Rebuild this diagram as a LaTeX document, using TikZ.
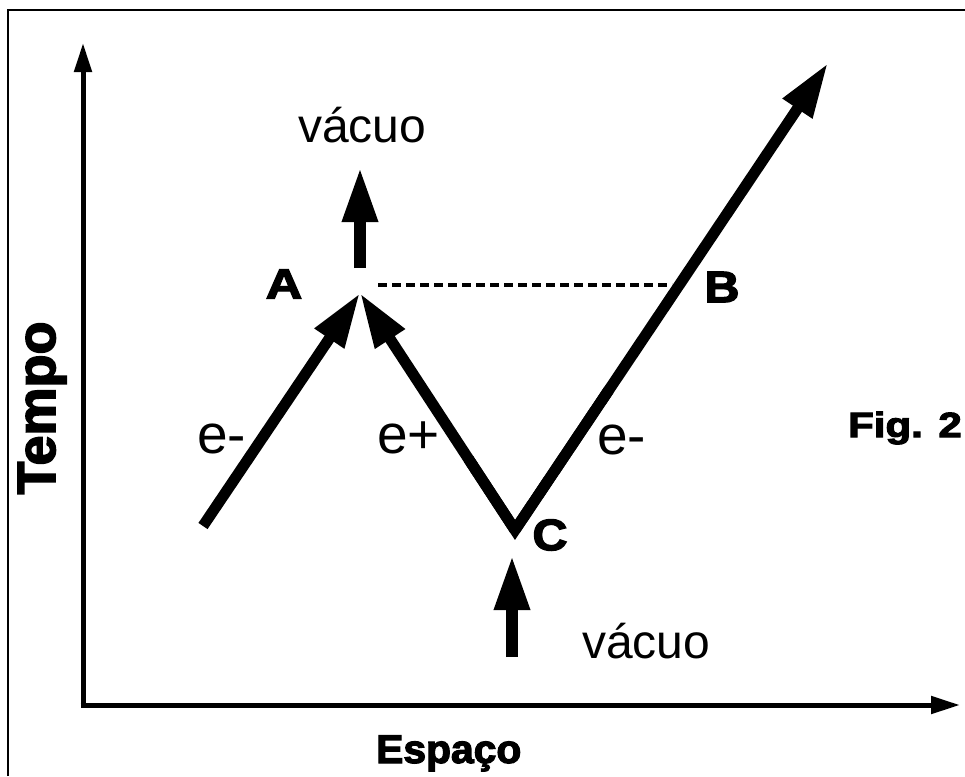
\documentclass[tikz,border=0pt]{standalone}
\usepackage{fontspec}
\setmainfont{Liberation Sans}
\newfontfamily\heavyfont{Liberation Sans}[BoldFeatures={FakeBold=3}]
\usetikzlibrary{arrows.meta,calc}
\begin{document}
\begin{tikzpicture}[x=1pt,y=-1pt,
  bigarrow/.style={line width=11pt,-{Triangle[length=55pt,width=33pt]}},
  axisarrow/.style={line width=5pt,-{Triangle[length=29pt,width=17pt]}},
  lbl/.style={inner sep=0pt,anchor=base west,font=\fontsize{55}{60}\selectfont},
  vac/.style={inner sep=0pt,anchor=base west,font=\fontsize{48}{54}\selectfont},
  heavy/.style={inner sep=0pt,font=\heavyfont\bfseries}]
\useasboundingbox (0,0) rectangle (965,776);
\fill[white] (0,0) rectangle (965,776);
% frame (top and left edges)
\draw[line width=2pt] (7.5,776) -- (7.5,10) -- (965,10);
% axes
\coordinate (O) at (83,705);
\coordinate (Ytip) at (83,43);
\coordinate (Xtip) at (960,705);
\draw[axisarrow] ([yshift=2.5pt]O) -- (Ytip);
\draw[axisarrow] ([xshift=-2.5pt]O) -- (Xtip);
% world lines
\coordinate (S) at (203,526);
\coordinate (A) at (360,293);
\coordinate (C) at (515,530);
\coordinate (E) at (828,63);
\draw[bigarrow] (S) -- (A);
\draw[bigarrow] (C) -- (A);
\draw[bigarrow] (C) -- (E);
\draw[line width=11pt,line join=miter] ($(C)!0.3!(A)$) -- (C) -- ($(C)!0.3!(E)$);
% vacuum arrows
\coordinate (V1a) at (360,268);
\coordinate (V1b) at (360,167);
\coordinate (V2a) at (512,657);
\coordinate (V2b) at (512,555);
\draw[line width=12pt,-{Triangle[length=55pt,width=33pt]}] (V1a) -- (V1b);
\draw[line width=12pt,-{Triangle[length=55pt,width=33pt]}] (V2a) -- (V2b);
% dashed line
\coordinate (D1) at (378,285);
\coordinate (D2) at (672,285);
\draw[line width=4pt,dash pattern=on 9pt off 5pt] (D1) -- (D2);
% labels
\node[vac] (vtop) at (298,142) {vácuo};
\node[vac] (vbot) at (582,658) {vácuo};
\node[lbl] (em1) at (197,453) {e-};
\node[lbl] (ep) at (377,453) {e+};
\node[lbl] (em2) at (597,454) {e-};
\node[heavy,font=\heavyfont\bfseries\fontsize{42}{44}\selectfont,xscale=1.2] (la) at (284,284) {A};
\node[heavy,font=\heavyfont\bfseries\fontsize{44}{44}\selectfont,xscale=1.1] (lb) at (722,287) {B};
\node[heavy,font=\heavyfont\bfseries\fontsize{44}{44}\selectfont,xscale=1.1] (lc) at (550,535) {C};
\node[heavy,font=\heavyfont\bfseries\fontsize{35}{38}\selectfont,xscale=1.2,anchor=base east] (fig) at (962,437) {Fig. 2};
\node[heavy,font=\heavyfont\bfseries\fontsize{54}{56}\selectfont,rotate=90,anchor=base] (tempo) at (55,408) {Tempo};
\node[heavy,font=\heavyfont\bfseries\fontsize{40}{42}\selectfont,xscale=1.02,anchor=base west] (espaco) at (376,763) {Espaço};
\end{tikzpicture}
\end{document}
